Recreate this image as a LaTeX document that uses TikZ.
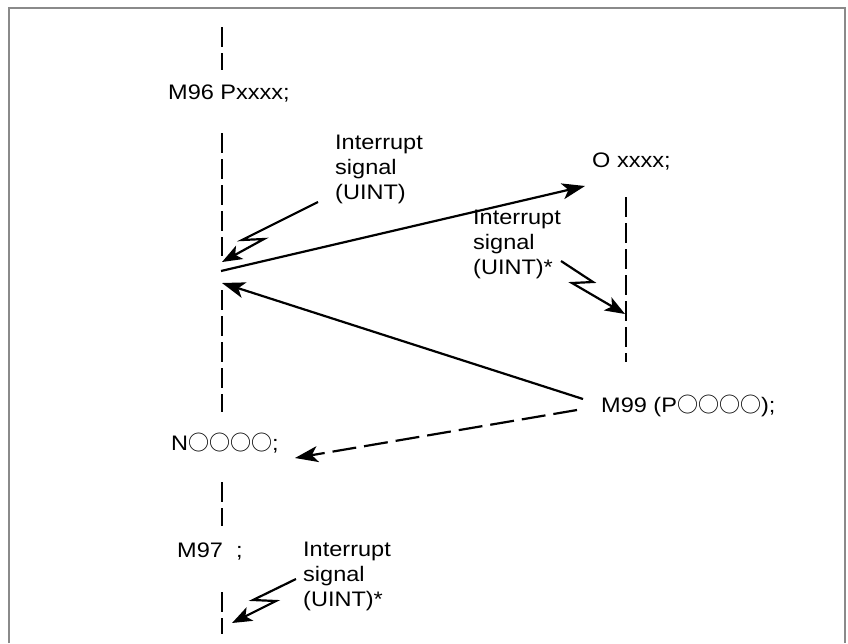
\documentclass[tikz,border=0pt]{standalone}
\usepackage{fontspec}
\setmainfont[FakeStretch=1.12]{Liberation Sans}
\newfontfamily\ringfont{Noto Sans CJK JP}
\usetikzlibrary{arrows.meta}
\definecolor{cframe}{HTML}{8A8A8A}
\newcommand{\ringmark}{{\ringfont\char"25CB}}
\tikzset{
 lbl/.style={anchor=base west, inner sep=0pt, font=\fontsize{21}{25}\selectfont},
 sig/.style={anchor=north west, inner sep=0pt, align=left, font=\fontsize{21}{25}\selectfont},
 prog/.style={draw=black, line width=2.2pt, dash pattern=on 20pt off 6pt},
 jmp/.style={-{Stealth[length=23pt, width=16pt, inset=6pt]}, draw=black, line width=2.2pt},
 jmpd/.style={jmp, dash pattern=on 24pt off 8pt},
 bolt/.style={-{Stealth[length=20pt, width=15pt, inset=5pt]}, draw=black, line width=2.2pt},
}
\begin{document}
\begin{tikzpicture}[x=1pt, y=-1pt]
 \useasboundingbox (0,0) rectangle (848,643);
 % frame
 \draw[cframe, line width=2.5pt] (9,643) -- (9,8) -- (845,8) -- (845,643);

 % main program
 \draw[prog] (222,27) -- (222,70);
 \draw[prog] (222,133) -- (222,256);
 \draw[prog] (222,290) -- (222,412);
 \draw[prog] (222,482) -- (222,526);
 \draw[prog] (222,592) -- (222,634);
 % interrupt program
 \draw[prog] (626,197) -- (626,362);

 % texts
 \node[lbl] (m96) at (168,99) {M96 Pxxxx;};
 \node[lbl] (osub) at (592,167) {O xxxx;};
 \node[lbl] (m99) at (601,412) {M99 (P\ringmark\ringmark\ringmark\ringmark);};
 \node[lbl] (nseq) at (171,450) {N\ringmark\ringmark\ringmark\ringmark;};
 \node[lbl] (m97) at (177,557) {M97\ \ ;};
 \node[sig] (sigA) at (335,135) {Interrupt\\signal\\(UINT)};
 \node[sig] (sigB) at (473,210) {Interrupt\\signal\\(UINT)*};
 \node[sig] (sigC) at (303,542) {Interrupt\\signal\\(UINT)*};

 % end points
 \coordinate (callout) at (221,271);
 \coordinate (ret) at (222,283);
 \coordinate (intA) at (222,262);
 \coordinate (subtop) at (585,186);
 \coordinate (intB) at (625,314);
 \coordinate (back) at (295,458);
 \coordinate (intC) at (232,623);
 \coordinate (m99a) at (583,399);
 \coordinate (m99b) at (577,410);
 \coordinate (boltA) at (318,202);
 \coordinate (boltB) at (561,261);
 \coordinate (boltC) at (296,579);

 % jumps
 \draw[jmp] (callout) -- (subtop);
 \draw[jmp] (m99a) -- (ret);
 \draw[jmpd] (m99b) -- (back);

 % interrupt signals
 \draw[bolt] (boltA) -- ++(-76,38) -- ++(22,-1) -- (intA);
 \draw[bolt] (boltB) -- ++(32,21) -- ++(-21,1) -- (intB);
 \draw[bolt] (boltC) -- ++(-43,21) -- ++(23,1) -- (intC);
\end{tikzpicture}
\end{document}
